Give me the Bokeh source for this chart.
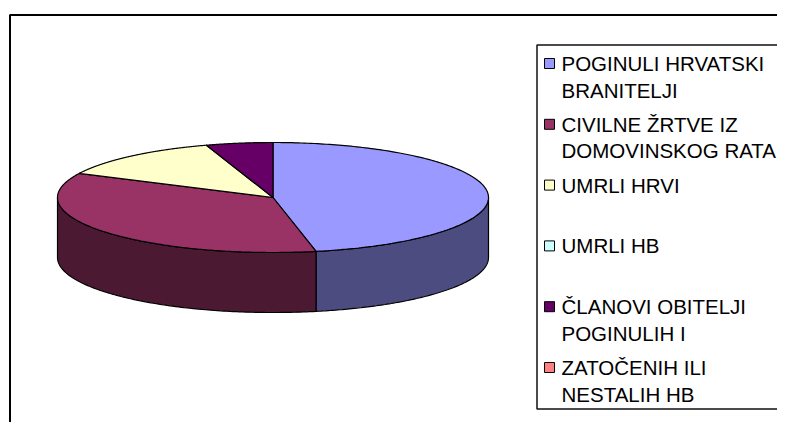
import numpy as np
from bokeh.plotting import figure
from bokeh.models import Range1d
from bokeh.core.properties import value
from bokeh.embed import file_html
from bokeh.resources import INLINE

# ---- data ----
categories = [
    "POGINULI HRVATSKI\nBRANITELJI",
    "CIVILNE ŽRTVE IZ\nDOMOVINSKOG RATA",
    "UMRLI HRVI",
    "UMRLI HB",
    "ČLANOVI OBITELJI\nPOGINULIH I",
    "ZATOČENIH ILI\nNESTALIH  HB",
]
values = [46.8, 35.4, 12.8, 0.0, 5.0, 0.0]
top_colors = ["#9999FF", "#993366", "#FFFFCC", "#CCFFFF", "#660066", "#FF8080"]
side_colors = ["#4C4C80", "#4C1933", "#808066", "#668080", "#330033", "#804040"]

# ---- layout (pixels inside the figure, y downward) ----
W, H = 777, 422
CX, CY = 272.5, 197.0
RX, RY, DEPTH = 215.5, 55.0, 60.0

p = figure(width=W, height=H, output_backend="svg", toolbar_location=None,
           x_range=Range1d(0, W), y_range=Range1d(H, 0), min_border=0,
           outline_line_color=None, background_fill_color="white",
           border_fill_color="white")
p.axis.visible = False
p.grid.visible = False

# outer chart frame (left and top edges; the rest lies beyond the window)
p.line(x=[9.5, 9.5, W], y=[H, 14.5, 14.5], line_color="black", line_width=2)

vals = np.array(values, dtype=float)
fr = vals / vals.sum()
ends = np.cumsum(fr) * 360.0
starts = ends - fr * 360.0

side_xs, side_ys, side_c = [], [], []
top_xs, top_ys, top_c = [], [], []
for s, e, ct, cs in zip(starts, ends, top_colors, side_colors):
    if e - s <= 0:
        continue
    lo, hi = max(s, 90.0), min(e, 270.0)
    if hi > lo:
        t = np.radians(np.linspace(lo, hi, 120))
        xe = CX + RX * np.sin(t)
        ye = CY - RY * np.cos(t)
        side_xs.append(list(xe) + list(xe[::-1]))
        side_ys.append(list(ye) + list((ye + DEPTH)[::-1]))
        side_c.append(cs)
    t = np.radians(np.linspace(s, e, 200))
    top_xs.append([CX] + list(CX + RX * np.sin(t)))
    top_ys.append([CY] + list(CY - RY * np.cos(t)))
    top_c.append(ct)

p.patches(xs=side_xs, ys=side_ys, fill_color=side_c, line_color="black", line_width=1.2)
p.patches(xs=top_xs, ys=top_ys, fill_color=top_c, line_color="black", line_width=1.2)

# legend box (left, top, bottom edges visible)
LX, LY0, LY1 = 536.5, 44.5, 408.5
p.line(x=[W, LX, LX, W], y=[LY0, LY0, LY1, LY1],
       line_color="#111111", line_width=1.5)

ENTRY0, STEP, LINE = 63.0, 60.8, 26.5
sq_x, sq_y, sq_c = [], [], []
tx, ty, tt = [], [], []
for i, (lab, c) in enumerate(zip(categories, top_colors)):
    y0 = ENTRY0 + i * STEP
    sq_x.append(549)
    sq_y.append(y0)
    sq_c.append(c)
    for j, line in enumerate(lab.split("\n")):
        tx.append(561)
        ty.append(y0 + j * LINE)
        tt.append(line)

p.rect(x=sq_x, y=sq_y, width=10, height=10, fill_color=sq_c,
       line_color="black", line_width=1)
p.text(x=tx, y=ty, text=tt, text_font=value("Liberation Sans"),
       text_font_size="20.5px", text_baseline="middle", text_align="left",
       text_color="black")

open("out.html", "w").write(file_html(p, INLINE))
